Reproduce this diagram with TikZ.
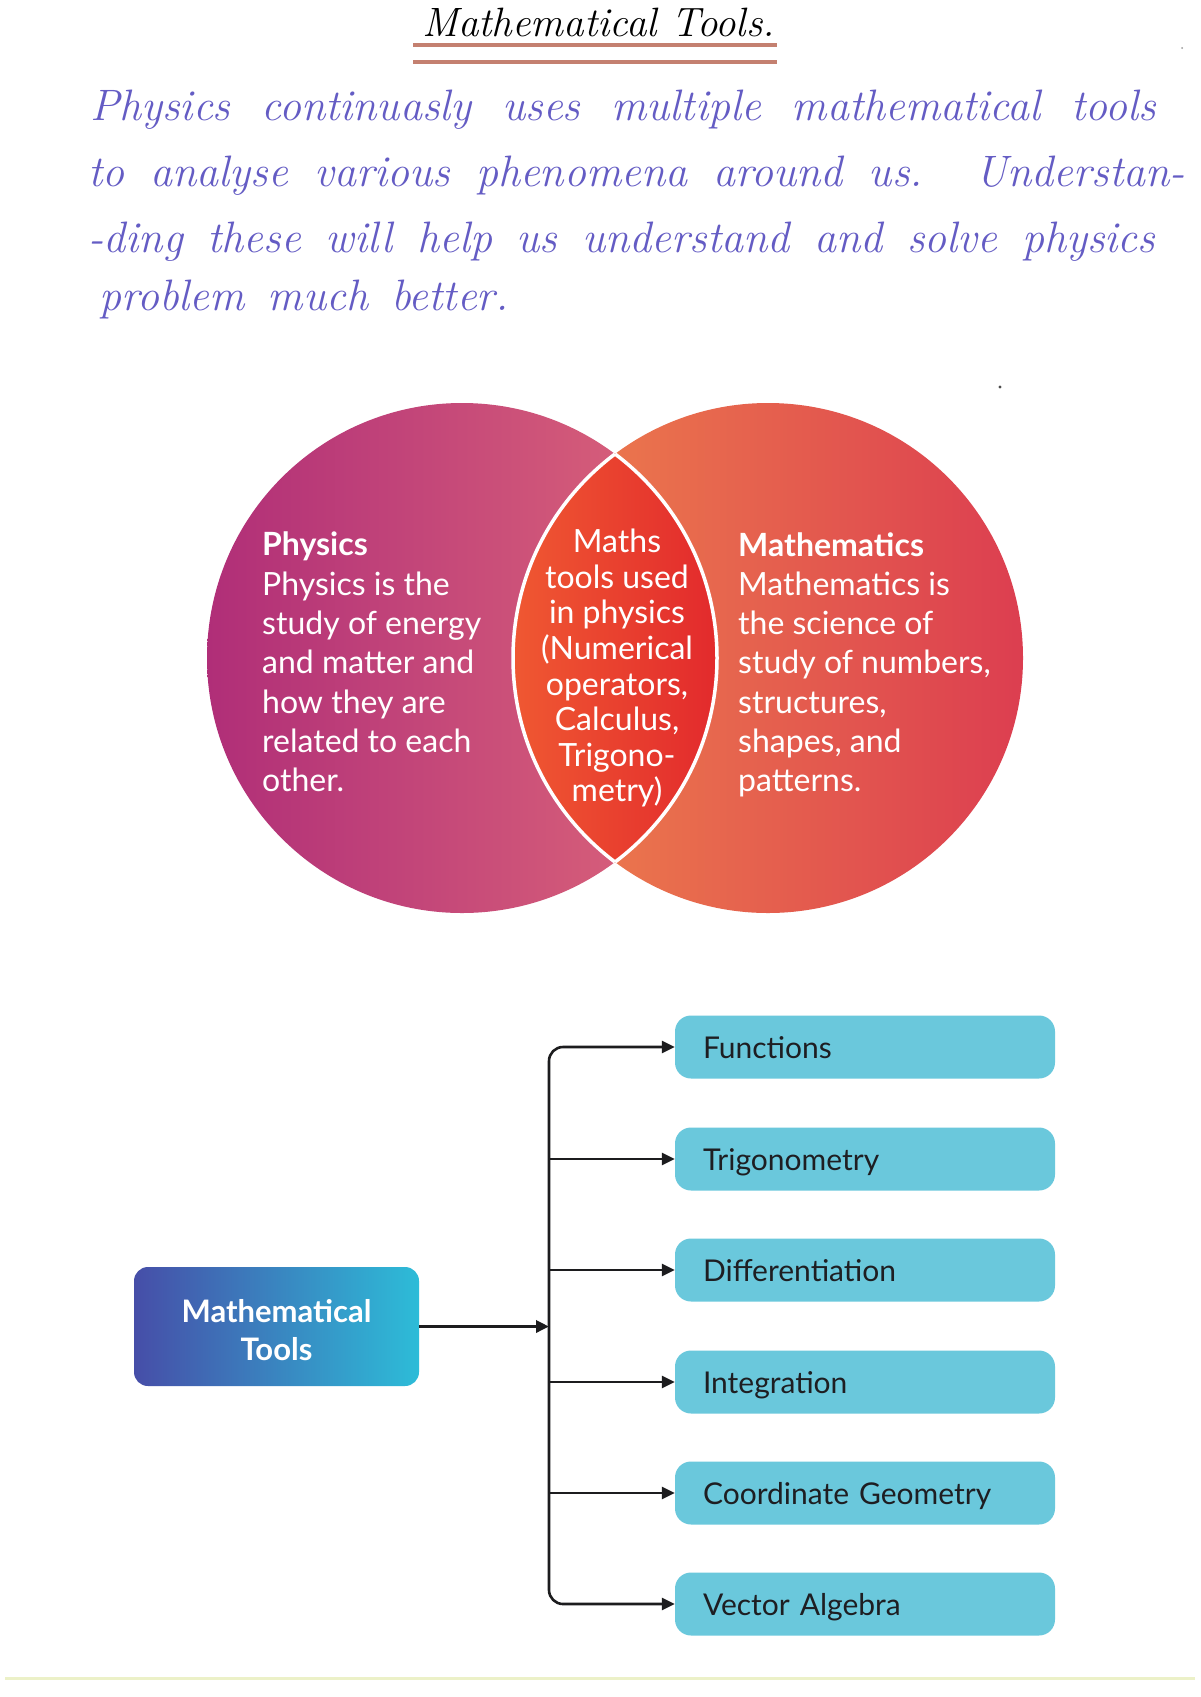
\documentclass[tikz,border=0pt]{standalone}
\usepackage{fontspec}
\newfontfamily\lato{Lato}
\usetikzlibrary{arrows.meta}
\definecolor{hand}{RGB}{100,92,196}
\definecolor{ulinec}{RGB}{196,128,112}
\definecolor{physL}{RGB}{176,46,120}
\definecolor{physR}{RGB}{222,104,122}
\definecolor{mathL}{RGB}{238,130,76}
\definecolor{mathR}{RGB}{220,62,80}
\definecolor{lensL}{RGB}{240,90,50}
\definecolor{lensR}{RGB}{226,40,44}
\definecolor{mtL}{RGB}{70,78,168}
\definecolor{mtR}{RGB}{45,188,216}
\definecolor{toolc}{RGB}{106,200,220}
\definecolor{tooltxt}{RGB}{30,30,34}
\definecolor{linec}{RGB}{28,28,30}
\definecolor{footc}{RGB}{236,241,200}
\tikzset{
  handline/.style={anchor=base west, inner sep=0, text=hand, font=\fontsize{44}{50}\selectfont\itshape},
  uline/.style={line width=4pt, ulinec},
  venntxt/.style={text=white, inner sep=0, align=left, font=\lato\fontsize{32}{39.3}\selectfont},
  mtbox/.style={rounded corners=14pt, left color=mtL, right color=mtR, minimum width=285pt, minimum height=119pt, inner sep=0},
  mttext/.style={text=white, align=center, inner sep=0, font=\lato\bfseries\fontsize{31}{38}\selectfont},
  toolbox/.style={fill=toolc, rounded corners=16pt, minimum height=63pt, text width=324pt, inner xsep=28pt, inner ysep=0pt, text height=29pt, text depth=6pt, align=left, text=tooltxt, font=\lato\fontsize{30}{36}\selectfont},
  arr/.style={-{Triangle[length=13pt,width=12pt]}, line width=2.6pt, draw=linec},
  spine/.style={{Triangle[length=13pt,width=12pt]}-{Triangle[length=13pt,width=12pt]}, line width=2.6pt, draw=linec, rounded corners=14pt}
}
\begin{document}
\begin{tikzpicture}[x=1pt,y=-1pt]
\useasboundingbox (0,0) rectangle (1200,1697);
\fill[white] (0,0) rectangle (1200,1697);

% title
\node[anchor=base west, inner sep=0, font=\fontsize{41}{46}\selectfont\itshape] (title) at (422,36) {Mathematical Tools.};
\draw[uline] (413,45) -- (777,45);
\draw[uline] (413,62) -- (777,62);

% handwritten paragraph
\node[handline] (h1) at (90,120) {\makebox[1066pt][s]{Physics continuasly uses multiple mathematical tools}};
\node[handline] (h2) at (88,186) {\makebox[1097pt][s]{to analyse various phenomena around us. Understan-}};
\node[handline] (h3) at (88,252) {\makebox[1067pt][s]{-ding these will help us understand and solve physics}};
\node[handline] (h4) at (99,310) {\makebox[409pt][s]{problem much better.}};

% Venn diagram
\coordinate (L) at (462,658);
\coordinate (R) at (768,658);
\shade[left color=physL, right color=physR] (L) circle (255pt);
\shade[left color=mathL, right color=mathR] (R) circle (255pt);
\begin{scope}
  \clip (L) circle (255pt);
  \clip (R) circle (255pt);
  \shade[left color=lensL, right color=lensR] (505,380) rectangle (725,940);
\end{scope}
\begin{scope}
  \clip (L) circle (255pt);
  \draw[white, line width=3.5pt] (R) circle (255pt);
\end{scope}
\begin{scope}
  \clip (R) circle (255pt);
  \draw[white, line width=3.5pt] (L) circle (255pt);
\end{scope}

\node[venntxt, anchor=north west] (phys) at (262,532) {\textbf{Physics}\\Physics is the\\study of energy\\and matter and\\how they are\\related to each\\other.};
\node[venntxt, anchor=north west] (math) at (738,532) {\textbf{Mathematics}\\Mathematics is\\the science of\\study of numbers,\\structures,\\shapes, and\\patterns.};
\node[venntxt, align=center, anchor=north, font=\lato\fontsize{32}{35.6}\selectfont] (lens) at (617,529) {Maths\\tools used\\in physics\\(Numerical\\operators,\\Calculus,\\Trigono-\\metry)};

% tree
\node[mtbox] (mt) at (276.5,1326.5) {};
\node[mttext] (mtl) at ([yshift=-4pt]mt.center) {Mathematical\\Tools};
\coordinate (bx) at (549,1326.5);
\node[toolbox] (t1) at (865,1047) {Functions};
\node[toolbox] (t2) at (865,1159) {Trigonometry};
\node[toolbox] (t3) at (865,1270) {Differentiation};
\node[toolbox] (t4) at (865,1382) {Integration};
\node[toolbox] (t5) at (865,1493) {Coordinate Geometry};
\node[toolbox] (t6) at (865,1604) {Vector Algebra};

\draw[spine] (t1.west) -- (t1.west -| bx) -- (t6.west -| bx) -- (t6.west);
\draw[arr] (t2.west -| bx) -- (t2.west);
\draw[arr] (t3.west -| bx) -- (t3.west);
\draw[arr] (t4.west -| bx) -- (t4.west);
\draw[arr] (t5.west -| bx) -- (t5.west);
\draw[arr, line width=3.6pt] (mt.east) -- (bx);

% scan marks
\fill[black!70] (1000,387) circle (1.6pt);
\fill[black!40] (1182,48) circle (1pt);
\draw[line width=3pt, footc] (5,1678) -- (1195,1678);
\end{tikzpicture}
\end{document}
